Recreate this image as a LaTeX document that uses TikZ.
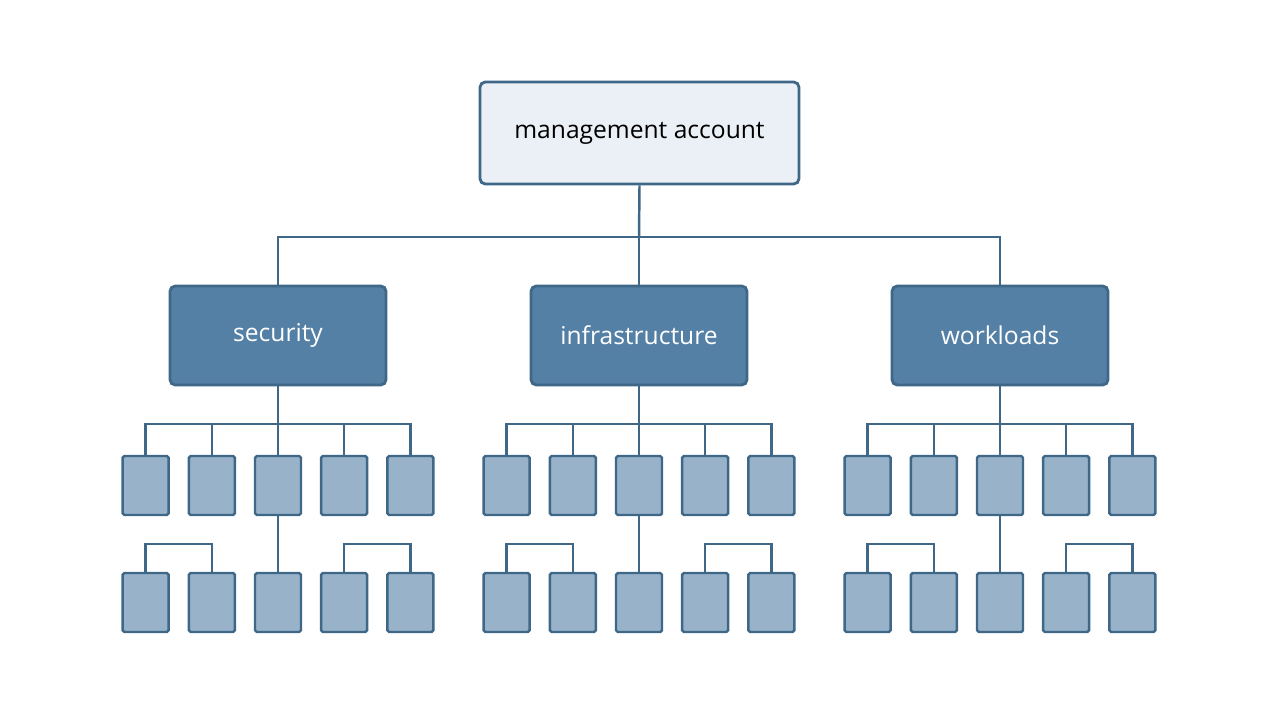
\documentclass[tikz,border=0pt]{standalone}
\usepackage{fontspec}
\setmainfont{Open Sans}
\usetikzlibrary{positioning}
\definecolor{edgeblue}{HTML}{3F6787}
\definecolor{topfill}{HTML}{EBF0F6}
\definecolor{midfill}{HTML}{5480A6}
\definecolor{leaffill}{HTML}{97B2C9}
\tikzset{
  link/.style={draw=edgeblue,line width=1.4pt},
  root/.style={draw=edgeblue,line width=1.6pt,fill=topfill,rounded corners=3pt,minimum width=319\px,minimum height=102\px,font=\fontsize{14}{16}\selectfont,inner sep=0pt},
  ou/.style={draw=edgeblue,line width=1.6pt,fill=midfill,rounded corners=3pt,minimum width=216\px,minimum height=99\px,text=white,font=\fontsize{14}{16}\selectfont,inner sep=0pt},
  leaf/.style={draw=edgeblue,line width=1.4pt,fill=leaffill,rounded corners=1pt,minimum width=46\px,minimum height=59\px,inner sep=0pt}
}
\newcommand{\px}{*0.02cm}
\begin{document}
\begin{tikzpicture}[x=0.02cm,y=-0.02cm]
\useasboundingbox (0,0) rectangle (1280,720);
\node[root] (mgmt) at (639.5,133) {management account};
\node[ou] (sec) at (278,335.5) {security};
\node[ou] (inf) at (639,335.5) {infrastructure};
\node[ou] (wrk) at (1000,335.5) {workloads};
\coordinate (bus) at (639,237);
\draw[link] (mgmt.south) -- (bus);
\draw[link] (sec.north) |- (bus) -| (wrk.north);
\draw[link] (bus) -- (inf.north);
\foreach \g/\cx in {sec/278,inf/639,wrk/1000}{
  \foreach \i in {1,...,5}{
    \node[leaf] (\g a\i) at ({\cx+(\i-3)*66.2},485.5) {};
    \node[leaf] (\g b\i) at ({\cx+(\i-3)*66.2},602.5) {};
  }
  \coordinate (\g bus) at (\cx,424);
  \draw[link] (\g.south) -- (\g bus);
  \draw[link] (\g a1.north) |- (\g bus) -| (\g a5.north);
  \draw[link] (\g a2.north) -- ++(0,-31);
  \draw[link] (\g a4.north) -- ++(0,-31);
  \draw[link] (\g bus) -- (\g a3.north);
  \draw[link] (\g a3.south) -- (\g b3.north);
  \draw[link] (\g b1.north) -- ++(0,-28) -| (\g b2.north);
  \draw[link] (\g b4.north) -- ++(0,-28) -| (\g b5.north);
}
\end{tikzpicture}
\end{document}
